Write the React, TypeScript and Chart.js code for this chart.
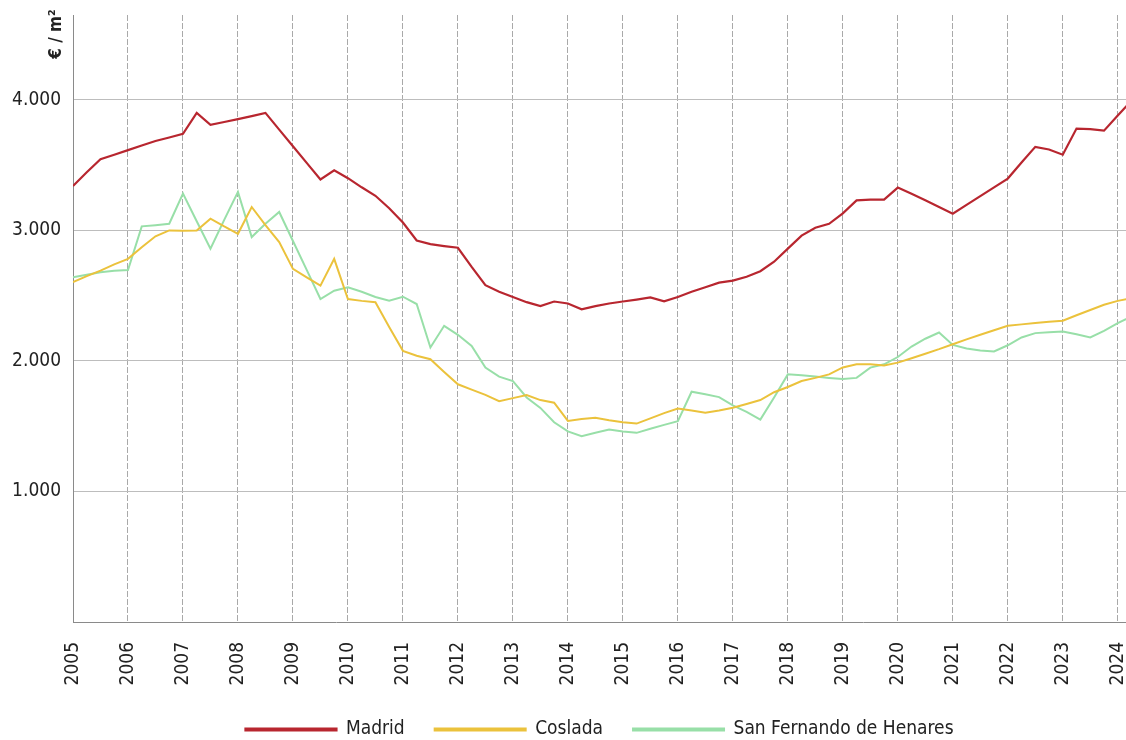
import React, { useEffect, useRef } from "react";
import { Chart, registerables } from "chart.js";

Chart.register(...registerables);

const startYear = 2005;
const yearTicks = [2005, 2006, 2007, 2008, 2009, 2010, 2011, 2012, 2013, 2014, 2015, 2016, 2017, 2018, 2019, 2020, 2021, 2022, 2023, 2024];
const yTicks = [1000, 2000, 3000, 4000];
const seriesNames = ["Madrid", "Coslada", "San Fernando de Henares"];

// quarterly values (€/m²), 2005 T1 ... 2024 T2
const madrid = [
  3340, 3445, 3545, 3580,
  3615, 3650, 3685, 3712,
  3740, 3900, 3808, 3830,
  3852, 3875, 3900, 3772,
  3645, 3517, 3390, 3460,
  3400, 3330, 3265, 3170,
  3060, 2923, 2895, 2880,
  2867, 2720, 2580, 2530,
  2490, 2450, 2420, 2455,
  2440, 2395, 2420, 2440,
  2455, 2470, 2487, 2456,
  2490, 2530, 2565, 2600,
  2615, 2645, 2687, 2760,
  2860, 2960, 3020, 3050,
  3130, 3230, 3236, 3236,
  3328, 3280, 3230, 3180,
  3128, 3195, 3262, 3330,
  3397, 3520, 3640, 3620,
  3580, 3780, 3775, 3764,
  3880, 3995,
];

const coslada = [
  2603, 2650, 2692, 2740,
  2782, 2870, 2955, 3000,
  2998, 3000, 3090, 3030,
  2974, 3179, 3040, 2910,
  2705, 2640, 2577, 2782,
  2474, 2460, 2449, 2260,
  2077, 2040, 2013, 1915,
  1821, 1780, 1740, 1692,
  1715, 1738, 1700, 1680,
  1540, 1555, 1564, 1545,
  1530, 1520, 1560, 1600,
  1636, 1620, 1603, 1620,
  1641, 1670, 1700, 1760,
  1800, 1846, 1870, 1897,
  1950, 1975, 1975, 1965,
  1987, 2020, 2055, 2090,
  2128, 2165, 2200, 2235,
  2269, 2280, 2290, 2300,
  2308, 2350, 2390, 2430,
  2460, 2480,
];

const sanFernando = [
  2641, 2660, 2679, 2690,
  2697, 3031, 3040, 3051,
  3282, 3070, 2859, 3080,
  3295, 2949, 3050, 3141,
  2919, 2697, 2474, 2538,
  2564, 2530, 2490, 2461,
  2492, 2436, 2103, 2269,
  2200, 2115, 1949, 1880,
  1846, 1720, 1640, 1530,
  1460, 1423, 1450, 1474,
  1460, 1449, 1480, 1510,
  1538, 1764, 1745, 1723,
  1660, 1610, 1551, 1720,
  1897, 1890, 1880, 1870,
  1862, 1870, 1949, 1974,
  2030, 2110, 2170, 2218,
  2123, 2095, 2080, 2072,
  2120, 2180, 2213, 2220,
  2226, 2205, 2180, 2230,
  2290, 2340,
];

const colors = ["#b8262f", "#ebc23c", "#98dfa8"];
const FONT = "'DejaVu Sans Condensed', 'Liberation Sans Narrow', sans-serif";

const toPoints = (vals: number[]) => vals.map((v, i) => ({ x: startYear + i / 4, y: v }));
const fmt = (v: number) => String(v).replace(/\B(?=(\d{3})+(?!\d))/g, ".");

const yTitlePlugin = {
  id: "yTitle",
  afterDraw(chart: any) {
    const { ctx, chartArea } = chart;
    ctx.save();
    ctx.translate(chartArea.left - 16, chartArea.top + 19);
    ctx.rotate(-Math.PI / 2);
    ctx.font = `bold 17px ${FONT}`;
    ctx.fillStyle = "#222";
    ctx.textAlign = "center";
    ctx.textBaseline = "middle";
    ctx.fillText("€ / m²", 0, 0);
    ctx.restore();
  },
};

export default function App() {
  const ref = useRef<HTMLCanvasElement | null>(null);
  useEffect(() => {
    if (!ref.current) return;
    const all = [madrid, coslada, sanFernando];
    const chart = new Chart(ref.current, {
      type: "line",
      data: {
        datasets: all.map((vals, k) => ({
          label: seriesNames[k],
          data: toPoints(vals),
          borderColor: colors[k],
          backgroundColor: colors[k],
          borderWidth: k === 0 ? 2.2 : 2,
          pointRadius: 0,
          tension: 0,
          fill: false,
        })),
      },
      plugins: [yTitlePlugin],
      options: {
        animation: false,
        responsive: true,
        maintainAspectRatio: false,
        layout: { padding: { top: 15, bottom: -9, left: 0, right: 0 } },
        plugins: {
          tooltip: { enabled: false },
          legend: {
            position: "bottom",
            fullSize: false,
            labels: {
              boxWidth: 91,
              boxHeight: 2,
              padding: 30,
              color: "#222",
              font: { family: FONT, size: 19 },
            },
          },
        },
        scales: {
          x: {
            type: "linear",
            min: startYear,
            max: 2024.15,
            afterFit: (s: any) => {
              s.height = 68;
              s.paddingLeft = 0;
              s.paddingRight = 0;
            },
            afterBuildTicks: (s: any) => {
              s.ticks = yearTicks.map((y) => ({ value: y }));
            },
            ticks: {
              autoSkip: false,
              minRotation: 90,
              maxRotation: 90,
              padding: 20,
              color: "#222",
              font: { family: FONT, size: 19 },
              callback: (v: any) => String(v),
            },
            grid: { drawTicks: false, color: "#a9a9a9", lineWidth: 1 },
            border: { color: "#8a8a8a", width: 1, dash: [6, 2] },
          },
          y: {
            min: 0,
            max: 4650,
            afterFit: (s: any) => {
              s.width = 73;
              s.paddingTop = 0;
              s.paddingBottom = 0;
            },
            afterBuildTicks: (s: any) => {
              s.ticks = [0, ...yTicks].map((v) => ({ value: v }));
            },
            ticks: {
              padding: 12,
              color: "#222",
              font: { family: FONT, size: 19 },
              callback: (v: any) => (v > 0 ? fmt(v) : ""),
            },
            grid: {
              drawTicks: false,
              color: (c: any) => (c.tick && c.tick.value > 0 ? "#bdbdbd" : "transparent"),
              lineWidth: 1,
            },
            border: { color: "#8a8a8a", width: 1 },
          },
        },
      },
    });
    return () => chart.destroy();
  }, []);
  return (
    <div style={{ position: "fixed", left: 0, top: 0, width: 1126, height: 740, background: "#fff" }}>
      <canvas ref={ref} />
    </div>
  );
}
